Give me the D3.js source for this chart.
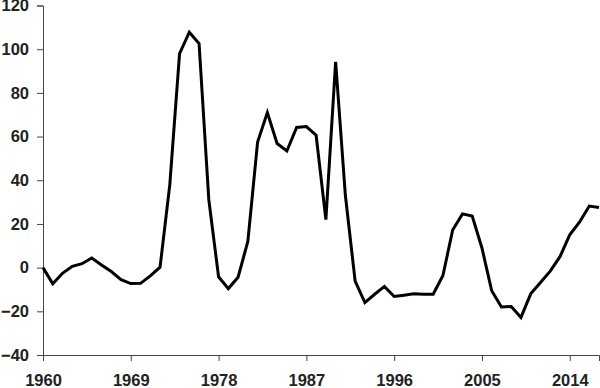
<!DOCTYPE html>
<meta charset="utf-8">
<style>
body {
  margin: 0;
  background: #fff;
  font-family: "Liberation Sans", Arial, Helvetica, sans-serif;
}
.axis text {
  font-size: 16.5px;
  font-weight: bold;
  fill: #222;
}
.axis path, .axis line {
  stroke: #444;
  stroke-width: 1;
}
.line {
  fill: none;
  stroke: #000;
  stroke-width: 3;
  stroke-linejoin: miter;
}
</style>
<body>
<script src="https://cdn.jsdelivr.net/npm/d3@7"></script>
<script>

var width = 600,
    height = 388;

var margin = {top: 5.5, right: 1, bottom: 33, left: 43};

var years = d3.range(1960, 2018);

var values = [
  0, -7.4, -2.6, 0.6, 1.8, 4.4, 1.2, -1.8, -5.5, -7.3,
  -7.2, -3.8, 0.2, 38, 98, 107.8, 102.6, 31, -4.2, -9.6,
  -4.4, 12, 57.5, 71, 56.8, 53.4, 64.2, 64.6, 60.6, 22,
  94.2, 33, -6.2, -16, -12.2, -8.6, -13.2, -12.6, -12, -12.2,
  -12.2, -3.6, 17.2, 24.6, 23.6, 9, -10.6, -18, -17.8, -22.8,
  -12, -6.8, -1.6, 5, 15, 20.8, 28.2, 27.5
];

var xTicks = [1960, 1969, 1978, 1987, 1996, 2005, 2014];
var yTicks = [-40, -20, 0, 20, 40, 60, 80, 100, 120];

var x = d3.scaleLinear()
    .domain([1960, 2017])
    .range([margin.left, width - margin.right]);

var y = d3.scaleLinear()
    .domain([-40, 120])
    .range([height - margin.bottom, margin.top]);

var svg = d3.select("body").append("svg")
    .attr("width", width)
    .attr("height", height);

svg.append("g")
    .attr("class", "axis")
    .attr("transform", "translate(0," + y(-40) + ")")
    .call(d3.axisBottom(x)
      .tickValues(xTicks)
      .tickFormat(d3.format("d"))
      .tickSizeOuter(0)
      .tickSize(6)
      .tickPadding(13));

svg.append("g")
    .attr("class", "axis")
    .attr("transform", "translate(" + margin.left + ",0)")
    .call(d3.axisLeft(y)
      .tickValues(yTicks)
      .tickSizeOuter(0)
      .tickSize(6)
      .tickPadding(8));

svg.selectAll(".axis .domain").attr("stroke", "#444");

var line = d3.line()
    .x(function(d, i) { return x(years[i]); })
    .y(function(d) { return y(d); });

svg.append("path")
    .datum(values)
    .attr("class", "line")
    .attr("d", line);

</script>
